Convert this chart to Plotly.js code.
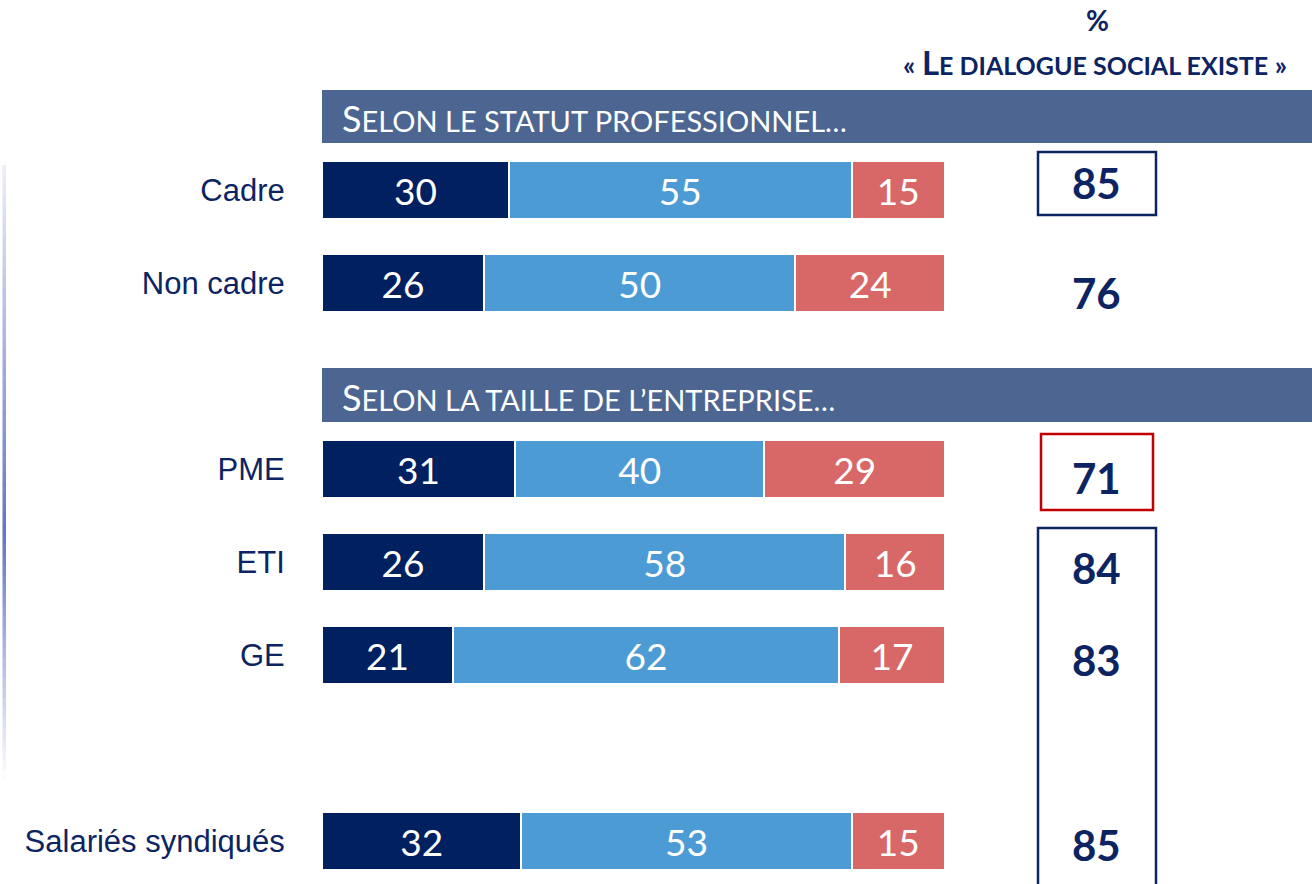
<!DOCTYPE html>
<html><head><meta charset="utf-8">
<script src="https://cdn.plot.ly/plotly-3.0.1.min.js"></script>
<style>html,body{margin:0;padding:0;background:#fff}#chart{width:1312px;height:884px}</style>
</head><body><div id="chart"></div>
<script>
// ---- data ----
const categories = ['Cadre', 'Non cadre', 'PME', 'ETI', 'GE', 'Salariés syndiqués'];
const toutAFait = [30, 26, 31, 26, 21, 32];
const plutot    = [55, 50, 40, 58, 62, 53];
const non       = [15, 24, 29, 16, 17, 15];
const existe    = [85, 76, 71, 84, 83, 85];
const sectionTitles = ['Selon le statut professionnel…', 'Selon la taille de l’entreprise…'];
const headerPct = '%';
const headerTitle = '« Le dialogue social existe »';

// ---- layout helpers ----
const W = 1312, H = 884;
const rowSlot = [0, 1, 3, 4, 5, 7];        // vertical slot of each row
const netShift = [7.5, -9.5, -8.5, -5.5, -4.5, -3.5]; // px nudges of the net labels
const row0Px = 190, rowStep = 93;
const px = x => x / W;
const py = y => 1 - y / H;
const yTop = -row0Px / rowStep, yBot = (H - row0Px) / rowStep;
const xMax = (W - 322) / 6.23;

const NAVY = '#0d2463';
const colors = ['#01205f', '#4d9bd4', '#d86767'];
const names = ['Oui, tout à fait', 'Oui, plutôt', 'Non'];

const traces = [toutAFait, plutot, non].map((vals, i) => ({
  type: 'bar', orientation: 'h', name: names[i],
  x: vals, y: rowSlot,
  text: vals.map(String), textposition: 'inside', insidetextanchor: 'middle',
  textfont: {family: 'Lato, Carlito, sans-serif', size: 37, color: '#ffffff'},
  marker: {color: colors[i], line: {color: '#ffffff', width: 2}},
  width: 0.63, hoverinfo: 'skip', cliponaxis: false
}));

function smallCaps(s, big, small) {
  return s.split(' ').map((w, wi) => {
    const first = w[0];
    const rest = w.slice(1).toUpperCase();
    if (wi === 0) {
      return `<span style="font-size:${big}px">${first.toUpperCase()}</span><span style="font-size:${small}px">${rest}</span>`;
    }
    return `<span style="font-size:${small}px">${w.toUpperCase()}</span>`;
  }).join(`<span style="font-size:${small}px"> </span>`);
}

const shapes = [];
const annotations = [];

// section banners
const bannerPx = [[90, 143], [368, 422]];
bannerPx.forEach((b, i) => {
  shapes.push({type: 'rect', xref: 'paper', yref: 'paper', x0: px(322), x1: 1, y0: py(b[1]), y1: py(b[0]),
    fillcolor: '#4c6591', line: {width: 0}, layer: 'below'});
  annotations.push({xref: 'paper', yref: 'paper', x: px(340), y: py((b[0] + b[1]) / 2 + 2),
    xanchor: 'left', yanchor: 'middle', showarrow: false,
    text: smallCaps(sectionTitles[i], 36, 29),
    font: {family: 'Lato, Carlito, sans-serif', color: '#ffffff', size: 29}});
});

// header
annotations.push({xref: 'paper', yref: 'paper', x: px(1097), y: py(20), xanchor: 'center', yanchor: 'middle',
  showarrow: false, text: '<b>' + headerPct + '</b>', font: {family: 'Lato, Carlito, sans-serif', size: 28, color: NAVY}});
annotations.push({xref: 'paper', yref: 'paper', x: px(1095), y: py(62), xanchor: 'center', yanchor: 'middle',
  showarrow: false,
  text: '<b><span style="font-size:27px">« </span><span style="font-size:33px">L</span><span style="font-size:25px">E DIALOGUE SOCIAL EXISTE</span><span style="font-size:27px"> »</span></b>',
  font: {family: 'Lato, Carlito, sans-serif', size: 25, color: NAVY}});

// net values
existe.forEach((v, i) => {
  annotations.push({xref: 'x', yref: 'y', x: (1096 - 322) / 6.23, y: rowSlot[i], yshift: netShift[i],
    xanchor: 'center', yanchor: 'middle', showarrow: false, text: '<b>' + v + '</b>',
    font: {family: 'Lato, Carlito, sans-serif', size: 42, color: NAVY}});
});

// boxes
shapes.push({type: 'rect', xref: 'paper', yref: 'paper', x0: px(1038), x1: px(1156), y0: py(215), y1: py(152),
  line: {color: NAVY, width: 2.5}});
shapes.push({type: 'rect', xref: 'paper', yref: 'paper', x0: px(1041), x1: px(1153), y0: py(510), y1: py(434),
  line: {color: '#c00000', width: 2.5}});
shapes.push({type: 'rect', xref: 'paper', yref: 'paper', x0: px(1038), x1: px(1156), y0: py(900), y1: py(528),
  line: {color: NAVY, width: 2.5}});

// left decorative gradient line (solid rects, colour blended toward white)
const segN = 60, lineTop = 165, lineBot = 780;
const base = [100, 115, 200];
for (let s = 0; s < segN; s++) {
  const t = (s + 0.5) / segN;
  const k = Math.max(0, t < 0.6 ? 0.12 + 0.88 * (t / 0.6) : 1 - (t - 0.6) / 0.4);
  const c = base.map(v => Math.round(255 - (255 - v) * k));
  const y0 = lineTop + (lineBot - lineTop) * s / segN, y1 = lineTop + (lineBot - lineTop) * (s + 1) / segN;
  shapes.push({type: 'rect', xref: 'paper', yref: 'paper', x0: px(2.5), x1: px(6), y0: py(y1 + 0.6), y1: py(y0),
    fillcolor: `rgb(${c.join(',')})`, line: {width: 0}});
}

const layout = {
  width: W, height: H, margin: {l: 0, r: 0, t: 0, b: 0},
  paper_bgcolor: '#ffffff', plot_bgcolor: '#ffffff',
  barmode: 'stack', showlegend: false,
  xaxis: {domain: [px(322), 1], range: [0, xMax], visible: false, fixedrange: true},
  yaxis: {range: [yBot, yTop], tickvals: rowSlot, ticktext: categories, showgrid: false, zeroline: false,
    showline: false, ticks: 'outside', ticklen: 30, tickcolor: 'rgba(0,0,0,0)', automargin: false,
    tickfont: {family: 'Liberation Sans, Arial, sans-serif', size: 31, color: NAVY}, fixedrange: true},
  shapes: shapes, annotations: annotations
};

Plotly.newPlot('chart', traces, layout, {displayModeBar: false, staticPlot: true});
</script></body></html>
